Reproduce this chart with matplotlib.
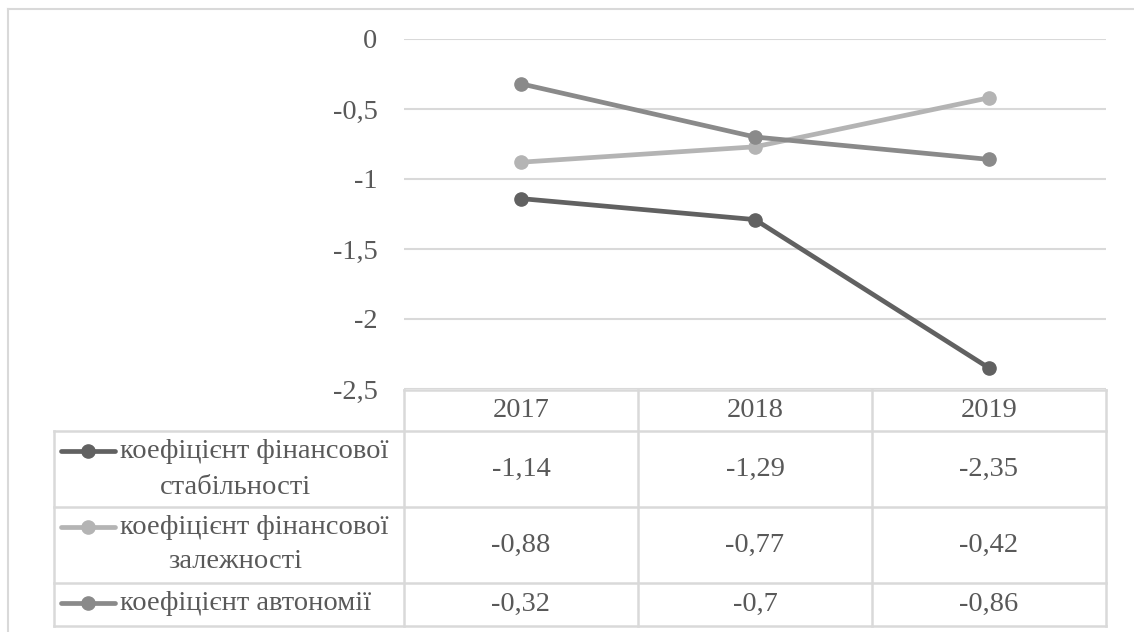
import matplotlib.pyplot as plt
from matplotlib.lines import Line2D

plt.rcParams['font.family'] = ['Liberation Serif', 'DejaVu Serif']

years = ['2017', '2018', '2019']
stability = [-1.14, -1.29, -2.35]
dependence = [-0.88, -0.77, -0.42]
autonomy = [-0.32, -0.7, -0.86]

series_names = [
    ('коефіцієнт фінансової', 'стабільності'),
    ('коефіцієнт фінансової', 'залежності'),
    ('коефіцієнт автономії', None),
]
series_values = [stability, dependence, autonomy]
series_colors = ['#616161', '#b4b4b4', '#8a8a8a']

y_ticks = [0, -0.5, -1, -1.5, -2, -2.5]

W, H = 1134, 632
TEXT = '#595959'
GRID = '#d9d9d9'
FS = 20.5

fig = plt.figure(figsize=(W / 100, H / 100), dpi=100)


def px_box(x0, y0, x1, y1):
    # pixel box (top-down) -> figure fraction rect
    return [x0 / W, 1 - y1 / H, (x1 - x0) / W, (y1 - y0) / H]


def fmt(v):
    s = f'{v:g}'
    return s.replace('.', ',')


# outer chart border (only top and left visible)
fig.add_artist(Line2D([8 / W, 8 / W], [0, 1 - 9 / H], color=GRID, lw=1.5))
fig.add_artist(Line2D([8 / W, 1], [1 - 9 / H, 1 - 9 / H], color=GRID, lw=1.5))

# plot area
ax = fig.add_axes(px_box(404, 39, 1106, 389))
ax.set_xlim(0, 3)
ax.set_ylim(-2.5, 0)
for s in ax.spines.values():
    s.set_visible(False)
ax.set_xticks([])
ax.set_yticks(y_ticks)
ax.set_yticklabels([fmt(t) for t in y_ticks])
ax.tick_params(axis='y', length=0, pad=19, labelsize=FS, labelcolor=TEXT)
ax.grid(axis='y', color=GRID, lw=1.5)
ax.set_axisbelow(True)

xs = [i + 0.5 for i in range(len(years))]
for vals, col in zip(series_values, series_colors):
    ax.plot(xs, vals, color=col, lw=3.4, marker='o', ms=9.5, zorder=3)

# data table
col_w = 234.0
label_w = (404 - 54) / col_w
tab = fig.add_axes(px_box(54, 390, 1106, 626))
tab.set_xlim(-label_w, 3)
tab.set_ylim(236, 0)
tab.axis('off')

row_edges = [0, 41, 117, 193, 236]
bw = 1.8
# horizontal lines
tab.plot([0, 3], [0, 0], color=GRID, lw=bw, clip_on=False)
for y in row_edges[1:]:
    tab.plot([-label_w, 3], [y, y], color=GRID, lw=bw, clip_on=False)
# vertical lines
tab.plot([-label_w, -label_w], [41, 236], color=GRID, lw=bw, clip_on=False)
for x in range(4):
    tab.plot([x, x], [0, 236], color=GRID, lw=bw, clip_on=False)

for i, yr in enumerate(years):
    tab.text(i + 0.5, 20.5, yr, ha='center', va='center', fontsize=FS, color=TEXT)

row_lines = [(61, 97), (137, 172), (213, None)]
for r, (names, vals, col) in enumerate(zip(series_names, series_values, series_colors)):
    top, bot = row_edges[r + 1], row_edges[r + 2]
    for i, v in enumerate(vals):
        tab.text(i + 0.5, (top + bot) / 2, fmt(v), ha='center', va='center',
                 fontsize=FS, color=TEXT)
    y1, y2 = row_lines[r]
    xm0, xmm, xm1 = [(p - 404) / col_w for p in (61, 88, 115)]
    tab.plot([xm0, xmm, xm1], [y1, y1, y1], color=col, lw=3.4, marker='o',
             ms=9.5, markevery=[1], solid_capstyle='round', clip_on=False)
    tab.text((120 - 404) / col_w, y1, names[0], ha='left', va='center',
             fontsize=FS, color=TEXT)
    if names[1]:
        tab.text((235 - 404) / col_w, y2, names[1], ha='center', va='center',
                 fontsize=FS, color=TEXT)

fig.savefig('out.png', dpi=100)
